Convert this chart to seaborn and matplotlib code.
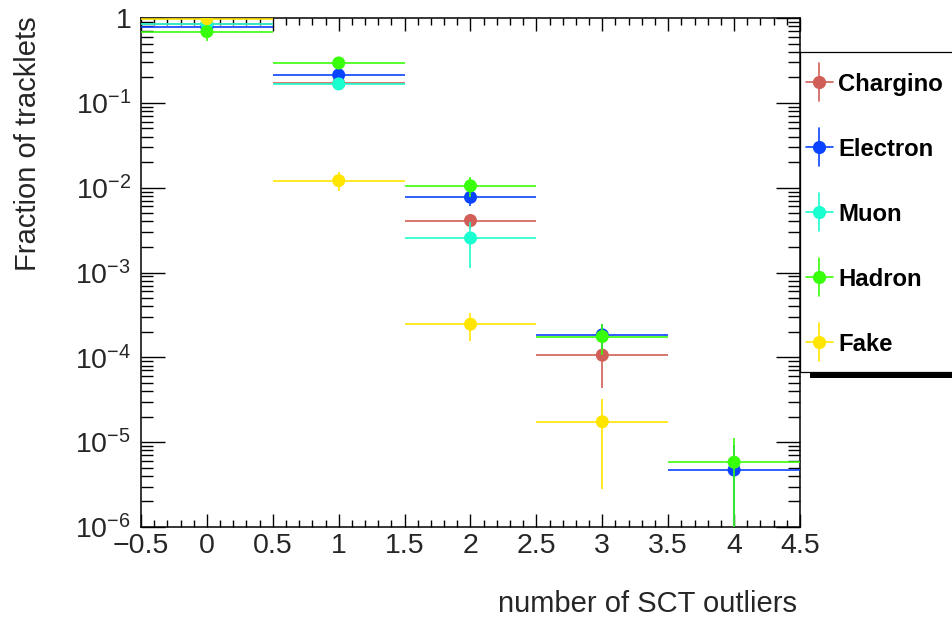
import numpy as np
import pandas as pd
import matplotlib
matplotlib.use("Agg")
import matplotlib.pyplot as plt
import seaborn as sns
from matplotlib.ticker import MultipleLocator, LogLocator, FuncFormatter, NullFormatter
from matplotlib.lines import Line2D
from matplotlib.patches import Rectangle

# ---- data -------------------------------------------------------------
n_outliers = [0, 1, 2, 3, 4]
bin_half_width = 0.5

species = ["Chargino", "Electron", "Muon", "Hadron", "Fake"]
colors = ["#d15f58", "#0a44ff", "#1affd0", "#38ff0a", "#ffe500"]

chargino = [0.85, 0.17, 0.0041, 1.06e-4, np.nan]
chargino_err = [0.02, 0.01, 0.0008, 6.3e-5, np.nan]
electron = [0.78, 0.213, 0.0077, 1.84e-4, 4.7e-6]
electron_err = [0.03, 0.02, 0.0017, 6.0e-5, 4.5e-6]
muon = [0.85, 0.167, 0.00255, np.nan, np.nan]
muon_err = [0.03, 0.01, 0.00143, np.nan, np.nan]
hadron = [0.69, 0.295, 0.0105, 1.76e-4, 5.8e-6]
hadron_err = [0.155, 0.03, 0.0028, 7.0e-5, 5.3e-6]
fake = [0.98, 0.0121, 2.46e-4, 1.74e-5, np.nan]
fake_err = [0.02, 0.003, 9.0e-5, 1.46e-5, np.nan]

values = [chargino, electron, muon, hadron, fake]
errors = [chargino_err, electron_err, muon_err, hadron_err, fake_err]

rows = []
for name, vals, errs in zip(species, values, errors):
    for x, v, e in zip(n_outliers, vals, errs):
        rows.append({"outliers": x, "species": name, "fraction": v, "err": e})
df = pd.DataFrame(rows).dropna()

# ---- style ------------------------------------------------------------
sns.set_style("white")
plt.rcParams["font.family"] = ["Liberation Sans", "DejaVu Sans"]
plt.rcParams["mathtext.fontset"] = "custom"
plt.rcParams["mathtext.rm"] = "Liberation Sans"
plt.rcParams["mathtext.it"] = "Liberation Sans:italic"
plt.rcParams["mathtext.bf"] = "Liberation Sans:bold"
plt.rcParams["mathtext.default"] = "regular"

W, H = 953, 618
fig = plt.figure(figsize=(W / 100, H / 100), dpi=100)
fig.patch.set_facecolor("white")
x0, x1, y0, y1 = 141, 800, 18, 527
ax = fig.add_axes([x0 / W, 1 - y1 / H, (x1 - x0) / W, (y1 - y0) / H])

for i, (name, col) in enumerate(zip(species, colors)):
    sub = df[df["species"] == name]
    ax.errorbar(sub["outliers"], sub["fraction"], xerr=bin_half_width,
                yerr=sub["err"], fmt="none", ecolor=col, elinewidth=1.2,
                capsize=0, zorder=2 + 2 * i)
    sns.scatterplot(data=sub, x="outliers", y="fraction", color=col, s=88,
                    edgecolor="none", linewidth=0, legend=False, ax=ax,
                    zorder=3 + 2 * i)

ax.set_yscale("log")
ax.set_xlim(-0.5, 4.5)
ax.set_ylim(1e-6, 1)

# ticks
ax.xaxis.set_major_locator(MultipleLocator(0.5))
ax.xaxis.set_minor_locator(MultipleLocator(0.1))
ax.xaxis.set_major_formatter(FuncFormatter(lambda v, p: f"{v:g}".replace("-", "\u2212")))
ax.yaxis.set_major_locator(LogLocator(base=10, numticks=10))
ax.yaxis.set_minor_locator(LogLocator(base=10, subs=np.arange(2, 10), numticks=20))
ax.yaxis.set_minor_formatter(NullFormatter())


def log_label(v, p):
    k = int(round(np.log10(v)))
    return "1" if k == 0 else rf"$10^{{{k}}}$"


ax.yaxis.set_major_formatter(FuncFormatter(log_label))

ax.tick_params(axis="x", which="major", direction="in", length=9.5, width=1,
               top=True, bottom=True, labelsize=20.5, pad=4, color="black")
ax.tick_params(axis="x", which="minor", direction="in", length=5, width=1,
               top=True, bottom=True, color="black")
ax.tick_params(axis="y", which="major", direction="in", length=17, width=1,
               left=True, right=True, labelsize=20.5, pad=7, color="black")
ax.tick_params(axis="y", which="minor", direction="in", length=8.6, width=1,
               left=True, right=True, color="black")

for s in ax.spines.values():
    s.set_color("black")
    s.set_linewidth(1.1)

ax.set_xlabel("number of SCT outliers", fontsize=21, loc="right")
ax.xaxis.label.set_va("baseline")
ax.xaxis.set_label_coords(1 - 3 / (x1 - x0), -(612 - y1) / (y1 - y0))

ax.set_ylabel("Fraction of tracklets", fontsize=21)
ax.yaxis.label.set_rotation_mode("default")
ax.yaxis.label.set_ha("center")
ax.yaxis.label.set_va("top")
ax.yaxis.set_label_coords((28 - x0) / (x1 - x0), (y1 - 16) / (y1 - y0))

# ---- legend box with drop shadow -------------------------------------
shadow = Rectangle((810 / W, 1 - 378 / H), (W + 20 - 810) / W, (378 - 62) / H,
                   transform=fig.transFigure, facecolor="black",
                   edgecolor="none", zorder=-2)
box = Rectangle((800 / W, 1 - 372 / H), (W + 20 - 800) / W, (372 - 51.5) / H,
                transform=fig.transFigure, facecolor="white",
                edgecolor="black", linewidth=0.9, zorder=-1)
fig.patches.extend([shadow, box])

for i, (name, col) in enumerate(zip(species, colors)):
    yc = 1 - (82 + 65 * i) / H
    fig.add_artist(Line2D([806 / W, 833 / W], [yc, yc], color=col, lw=1.2))
    fig.add_artist(Line2D([819.5 / W, 819.5 / W], [yc - 19 / H, yc + 19 / H],
                          color=col, lw=1.2))
    fig.add_artist(Line2D([819.5 / W], [yc], marker="o", ms=9.5, color=col,
                          mec="none", lw=0))
    fig.text(838 / W, yc, name, fontsize=17.2, fontweight="bold",
             ha="left", va="center_baseline", color="black")

fig.savefig("out.png", dpi=100)
